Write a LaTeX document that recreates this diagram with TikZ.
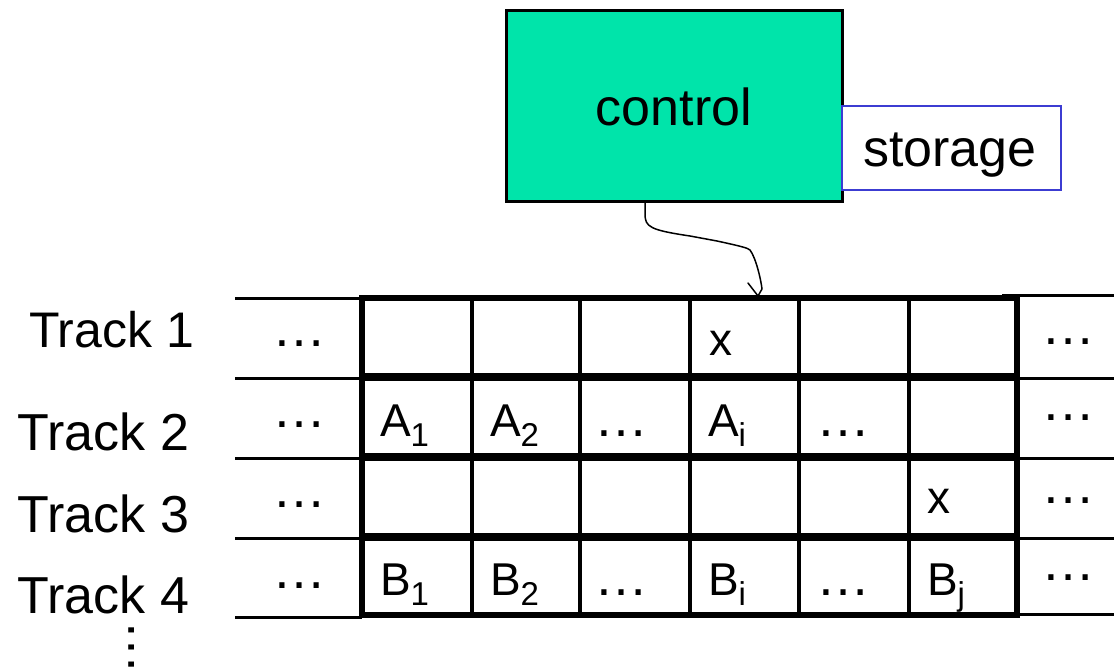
\documentclass[tikz,border=0pt]{standalone}
\usepackage{fontspec}
\setmainfont{Liberation Sans}
\definecolor{ctrlgreen}{RGB}{0,228,170}
\definecolor{storeblue}{RGB}{60,60,210}
\begin{document}
\begin{tikzpicture}[x=1pt,y=-1pt,
  every node/.style={inner sep=0pt,outer sep=0pt},
  tracklbl/.style={anchor=base east,font=\fontsize{52}{52}\selectfont},
  celltxt/.style={anchor=base west,font=\fontsize{46}{46}\selectfont},
  dotstxt/.style={anchor=base,font=\fontsize{54}{54}\selectfont},
  outline/.style={line width=3pt},
  rowline/.style={line width=7.5pt},
  colline/.style={line width=4pt},
  border/.style={line width=5.5pt}]
\useasboundingbox (0,0) rectangle (1114,667);
% control and storage
\node[draw=black,line width=3pt,fill=ctrlgreen,minimum width=336pt,minimum height=191pt,anchor=north west] (ctrl) at (506,10) {};
\node[font=\fontsize{52}{52}\selectfont,anchor=base] (ctrltxt) at (674,125) {control};
\node[draw=storeblue,line width=1.5pt,fill=white,minimum width=219pt,minimum height=84pt,anchor=north west] (stor) at (842,106) {};
\node[font=\fontsize{52}{52}\selectfont,anchor=base] (stortxt) at (950,166) {storage};
% outer lines left
\foreach \y in {298,378,458,538,617} \draw[outline] (235,\y) -- (362,\y);
% outer lines right
\draw[outline] (1002,295) -- (1114,295);
\foreach \y in {378,458,538,614} \draw[outline] (1017,\y) -- (1114,\y);
% grid rows
\foreach \y in {377,457,537} \draw[rowline] (362,\y) -- (1017,\y);
\foreach \x in {472,580,690,799,909} \draw[colline] (\x,298) -- (\x,615);
\draw[border] (362,298) rectangle (1017,615);
% connector
\coordinate (tip) at (758,296);
\coordinate (src) at (645,201);
\draw[line width=1.5pt,line cap=round,line join=round] (src) -- (645,214) .. controls (645,227) and (650,230) .. (690,236) -- (717,241) .. controls (740,246) and (748,248) .. (750,250) .. controls (756,258) and (761,280) .. (762,289) -- (tip);
\draw[line width=1.5pt,line cap=round] (tip) -- (748,283);
% track labels
\node[tracklbl,font=\fontsize{50}{50}\selectfont] (t1) at (194,347) {Track 1};
\node[tracklbl] (t2) at (189,450) {Track 2};
\node[tracklbl] (t3) at (189,532) {Track 3};
\node[tracklbl] (t4) at (189,613) {Track 4};
\node[dotstxt,rotate=90] (vd) at (134,647) {…};
% left and right dots
\foreach \y/\n in {346/1,427/2,507/3,588/4} \node[dotstxt] (ld\n) at (299,\y) {…};
\foreach \y/\n in {344/1,420/2,503/3,580/4} \node[dotstxt] (rd\n) at (1068,\y) {…};
% row 1
\node[celltxt] (x1) at (709,355) {x};
% row 2
\newcommand{\sbs}[1]{\raisebox{-10pt}{\fontsize{33}{33}\selectfont #1}}
\node[celltxt] (a1) at (380,436) {A\sbs{1}};
\node[celltxt] (a2) at (490,436) {A\sbs{2}};
\node[dotstxt] (ad1) at (621,436) {…};
\node[celltxt] (ai) at (708,436) {A\sbs{i}};
\node[dotstxt] (ad2) at (843,436) {…};
% row 3
\node[celltxt] (x3) at (927,513) {x};
% row 4
\node[celltxt] (b1) at (380,595) {B\sbs{1}};
\node[celltxt] (b2) at (490,595) {B\sbs{2}};
\node[dotstxt] (bd1) at (621,595) {…};
\node[celltxt] (bi) at (708,595) {B\sbs{i}};
\node[dotstxt] (bd2) at (843,595) {…};
\node[celltxt] (bj) at (927,595) {B\sbs{j}};
\end{tikzpicture}
\end{document}
